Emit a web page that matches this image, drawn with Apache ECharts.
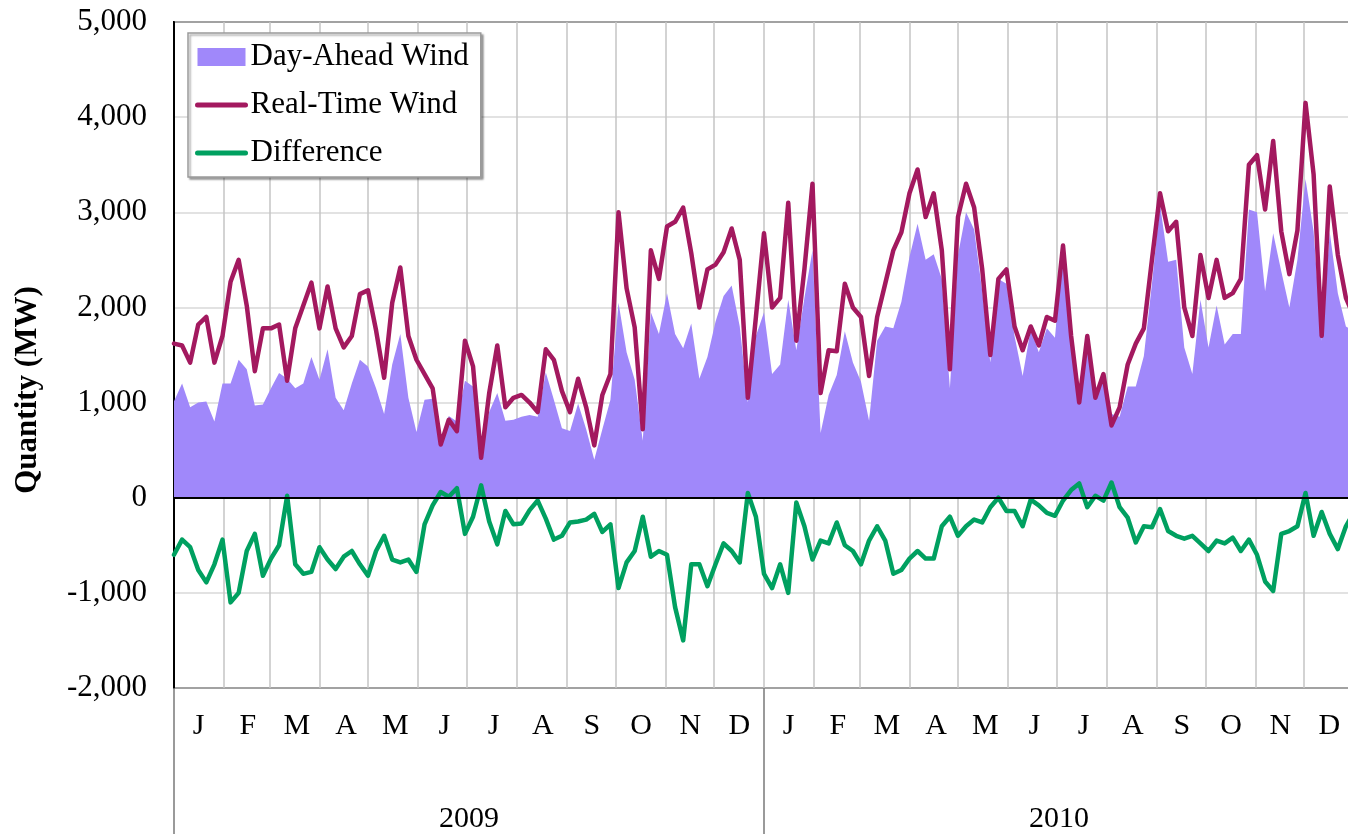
<!DOCTYPE html>
<html>
<head>
<meta charset="utf-8">
<script src="https://cdn.jsdelivr.net/npm/echarts@6/dist/echarts.min.js"></script>
<style>
  html, body { margin: 0; padding: 0; background: #fff; overflow: hidden; width: 1348px; height: 834px; }
  #chart { width: 1356px; height: 834px; }
</style>
</head>
<body>
<div id="chart"></div>
<script>
// ---- Data (one value every 5 days from 1 Jan 2009) ----
const START_YEAR = 2009;
const STEP_DAYS = 5;

const MONTH_LABELS = ['J','F','M','A','M','J','J','A','S','O','N','D',
                      'J','F','M','A','M','J','J','A','S','O','N','D'];
const YEAR_LABELS = ['2009', '2010'];

const realTime = [
  1620,1600,1420,1820,1900,1420,1700,2270,2500,2020,
  1330,1780,1780,1820,1230,1780,2020,2260,1780,2220,
  1780,1580,1700,2140,2180,1760,1260,2050,2420,1700,
  1450,1300,1150,560,820,700,1650,1380,420,1100,
  1600,950,1050,1080,1000,900,1560,1450,1120,900,
  1250,950,550,1080,1300,3000,2200,1790,720,2600,
  2300,2850,2900,3050,2570,2000,2400,2450,2580,2830,
  2500,1050,1900,2780,2000,2100,3100,1650,2400,3300,
  1100,1550,1540,2250,2000,1900,1280,1900,2250,2600,
  2790,3200,3450,2950,3200,2600,1350,2950,3300,3050,
  2400,1500,2300,2400,1800,1550,1800,1600,1900,1860,
  2650,1700,1000,1700,1050,1300,760,950,1400,1620,
  1780,2500,3200,2800,2900,2000,1700,2550,2100,2500,
  2100,2150,2300,3500,3600,3030,3750,2800,2350,2810,
  4150,3400,1700,3270,2550,2100,1900
];

const dayAhead = [
  1015,1200,950,1000,1010,800,1200,1200,1450,1350,
  970,980,1150,1310,1250,1150,1200,1480,1240,1560,
  1050,920,1200,1450,1380,1150,880,1400,1720,1050,
  690,1030,1040,600,860,800,1230,1170,530,900,
  1100,810,820,850,870,850,1320,1030,730,700,
  990,720,400,720,1030,2050,1530,1240,600,1950,
  1720,2150,1720,1570,1830,1250,1480,1850,2120,2230,
  1800,1000,1700,1950,1300,1400,2080,1550,2100,2600,
  680,1080,1290,1750,1420,1220,810,1650,1800,1780,
  2060,2530,2880,2500,2560,2300,1150,2550,3000,2820,
  2170,1420,2300,2250,1700,1280,1770,1530,1780,1680,
  2620,1770,1130,1600,1080,1260,880,850,1170,1170,
  1490,2250,3080,2480,2500,1580,1300,2080,1580,2020,
  1610,1720,1720,3030,3000,2170,2780,2380,2000,2500,
  3350,2800,1650,2790,2150,1800,1750
];

const difference = [
  -600,-440,-520,-760,-890,-700,-440,-1100,-1000,-560,
  -380,-820,-640,-500,20,-700,-800,-780,-520,-650,
  -750,-620,-560,-700,-820,-560,-400,-650,-680,-650,
  -780,-280,-80,60,10,100,-380,-200,130,-250,
  -490,-140,-280,-270,-130,-30,-220,-440,-400,-260,
  -250,-230,-170,-360,-280,-950,-680,-560,-200,-620,
  -560,-600,-1150,-1500,-700,-700,-930,-700,-480,-560,
  -680,50,-200,-800,-950,-700,-1000,-50,-300,-650,
  -450,-480,-260,-500,-560,-700,-450,-300,-450,-800,
  -760,-640,-560,-640,-640,-300,-200,-400,-300,-230,
  -260,-100,0,-140,-140,-300,-20,-80,-160,-190,
  -30,80,150,-100,20,-30,160,-100,-210,-470,
  -300,-310,-120,-350,-400,-430,-400,-480,-560,-450,
  -480,-420,-560,-440,-600,-880,-980,-380,-350,-300,
  50,-400,-150,-380,-540,-300,-150
];

// ---- Helpers ----
function dateAt(i) { return new Date(START_YEAR, 0, 1 + i * STEP_DAYS).getTime(); }
function toPairs(arr) { return arr.map((v, i) => [dateAt(i), v]); }

const FONT = "'Liberation Serif', 'Times New Roman', serif";
const C_AREA = '#A088FA';
const C_RT = '#A3195F';
const C_DIFF = '#00A060';

const chart = echarts.init(document.getElementById('chart'), null, { renderer: 'canvas' });

chart.setOption({
  animation: false,
  backgroundColor: '#ffffff',
  textStyle: { fontFamily: FONT, color: '#000' },
  grid: {
    left: 174, top: 22, width: 1180, height: 666,
    show: true, borderColor: '#000', borderWidth: 2, backgroundColor: 'transparent'
  },
  legend: {
    orient: 'vertical',
    left: 188, top: 33,
    padding: [8, 12, 8, 7],
    itemWidth: 48, itemHeight: 18,
    itemGap: 16,
    backgroundColor: '#fff',
    borderColor: '#9a9a9a', borderWidth: 1.5,
    shadowColor: 'rgba(0,0,0,0.35)', shadowBlur: 2, shadowOffsetX: 2, shadowOffsetY: 2,
    textStyle: { fontFamily: FONT, fontSize: 31, color: '#000', lineHeight: 32 },
    data: [
      { name: 'Day-Ahead Wind', icon: 'rect', itemStyle: { color: C_AREA } },
      { name: 'Real-Time Wind', itemStyle: { opacity: 0 }, lineStyle: { width: 5, color: C_RT, cap: 'round' } },
      { name: 'Difference', itemStyle: { opacity: 0 }, lineStyle: { width: 5, color: C_DIFF, cap: 'round' } }
    ]
  },
  xAxis: [
    {
      type: 'time',
      gridIndex: 0,
      min: new Date(START_YEAR, 0, 1).getTime(),
      max: new Date(START_YEAR + 2, 0, 1).getTime(),
      splitNumber: 24,
      minInterval: 28 * 86400000,
      maxInterval: 31 * 86400000,
      axisLine: { show: false },
      axisTick: { show: false },
      axisLabel: { show: false },
      splitLine: { show: true, lineStyle: { color: '#c4c4c4', width: 1.5 } }
    },
    {
      type: 'category',
      gridIndex: 0,
      position: 'bottom',
      data: MONTH_LABELS,
      boundaryGap: true,
      axisLine: { show: false },
      axisTick: { show: false },
      splitLine: { show: false },
      axisLabel: { interval: 0, margin: 23, fontSize: 30, fontFamily: FONT, color: '#000' }
    },
    {
      type: 'category',
      gridIndex: 0,
      position: 'bottom',
      data: YEAR_LABELS,
      boundaryGap: true,
      axisLine: { show: false },
      axisTick: { show: true, interval: 0, length: 150, lineStyle: { color: '#7a7a7a', width: 1.5 } },
      splitLine: { show: false },
      axisLabel: { interval: 0, margin: 116, fontSize: 30, fontFamily: FONT, color: '#000' }
    }
  ],
  yAxis: {
    type: 'value',
    min: -2000, max: 5000, interval: 1000,
    name: 'Quantity (MW)',
    nameLocation: 'middle',
    nameGap: 131,
    nameTextStyle: { fontFamily: FONT, fontSize: 31, fontWeight: 'bold', color: '#000', padding: [0, 70, 0, 0] },
    axisLine: { show: true, lineStyle: { color: '#000', width: 2 } },
    axisTick: { show: false },
    axisLabel: {
      margin: 27, fontSize: 31, fontFamily: FONT, color: '#000',
      formatter: v => v.toLocaleString('en-US')
    },
    splitLine: { show: true, lineStyle: { color: '#d9d9d9', width: 1.5 } }
  },
  series: [
    {
      name: 'Day-Ahead Wind',
      type: 'line',
      xAxisIndex: 0,
      data: toPairs(dayAhead),
      symbol: 'none',
      z: 1,
      itemStyle: { color: C_AREA },
      lineStyle: { width: 0, color: C_AREA },
      areaStyle: { color: C_AREA, opacity: 1 }
    },
    {
      name: 'Real-Time Wind',
      type: 'line',
      xAxisIndex: 0,
      data: toPairs(realTime),
      symbol: 'none',
      z: 3,
      itemStyle: { color: C_RT },
      lineStyle: { width: 4.5, color: C_RT, join: 'round', cap: 'round' },
      markLine: {
        silent: true,
        symbol: 'none',
        label: { show: false },
        lineStyle: { color: '#000', width: 2, type: 'solid' },
        data: [{ yAxis: 0 }]
      }
    },
    {
      name: 'Difference',
      type: 'line',
      xAxisIndex: 0,
      data: toPairs(difference),
      symbol: 'none',
      z: 4,
      itemStyle: { color: C_DIFF },
      lineStyle: { width: 4.5, color: C_DIFF, join: 'round', cap: 'round' }
    }
  ]
});
</script>
</body>
</html>
